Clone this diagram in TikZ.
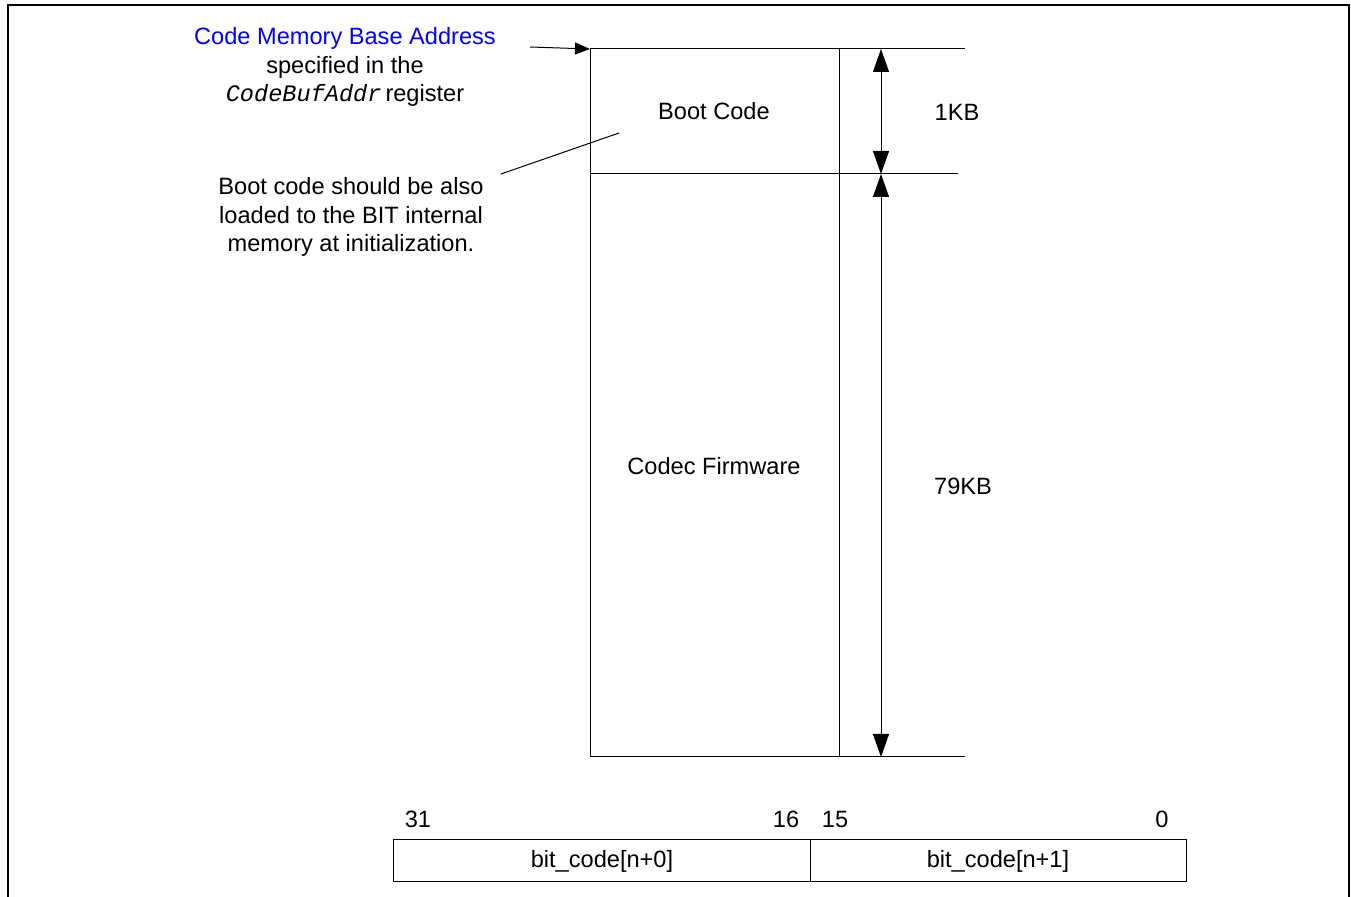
\documentclass[tikz,border=0pt]{standalone}
\usepackage{fontspec}
\setmainfont{Liberation Sans}
\newfontfamily\regfont{Liberation Mono}
\usetikzlibrary{arrows.meta}
\begin{document}
\begin{tikzpicture}[x=0.5pt, y=-0.5pt, line width=0.5pt,
  txt/.style={font=\fontsize{11.8}{14.25}\selectfont, inner sep=0pt, align=center},
  dimarrow/.style={{Triangle[length=11.5pt,width=8pt]}-{Triangle[length=11.5pt,width=8pt]}}]
  \useasboundingbox (0,0) rectangle (1351,897);
  % outer frame, open at the bottom
  \draw[line width=1pt] (8,897) -- (8,5) -- (1349,5) -- (1349,897);
  % code memory map
  \coordinate (memtop) at (590,49);
  \coordinate (memmid) at (590,174);
  \coordinate (membot) at (590,757);
  \draw (memtop) -- (965,49);
  \draw (memmid) -- (958,174);
  \draw (membot) -- (965,757);
  \draw (memtop) -- (membot);
  \draw (839,49) -- (839,757);
  \node[txt] (boot) at (714,111) {Boot Code};
  \node[txt] (fw) at (714,466) {Codec Firmware};
  % size arrows
  \coordinate (d0) at (881,49);
  \coordinate (d1) at (881,174);
  \coordinate (d2) at (881,757);
  \draw[dimarrow] (d0) -- (d1);
  \draw[dimarrow] (d1) -- (d2);
  \node[txt] (kb1) at (957,112) {1KB};
  \node[txt] (kb79) at (963,486) {79KB};
  % base address note
  \node[txt] (base) at (345,67) {\textcolor{blue}{Code Memory Base Address}\\specified in the\\{\regfont\itshape CodeBufAddr}\,register};
  \coordinate (basept) at (530,47);
  \draw[-{Triangle[length=7.5pt,width=6pt]}] (basept) -- (memtop);
  % boot code note
  \node[txt] (note) at (351,217) {Boot code should be also\\loaded to the BIT internal\\memory at initialization.};
  \coordinate (notept) at (501,174);
  \coordinate (bootpt) at (619,133);
  \draw (notept) -- (bootpt);
  % word layout
  \draw (393,840) rectangle (1186,882);
  \draw (810,840) -- (810,882);
  \node[txt] (hi) at (602,861) {bit\_code[n+0]};
  \node[txt] (lo) at (998,861) {bit\_code[n+1]};
  \node[txt] (b31) at (418,819) {31};
  \node[txt] (b16) at (786,819) {16};
  \node[txt] (b15) at (835,819) {15};
  \node[txt] (b0) at (1162,819) {0};
\end{tikzpicture}
\end{document}
